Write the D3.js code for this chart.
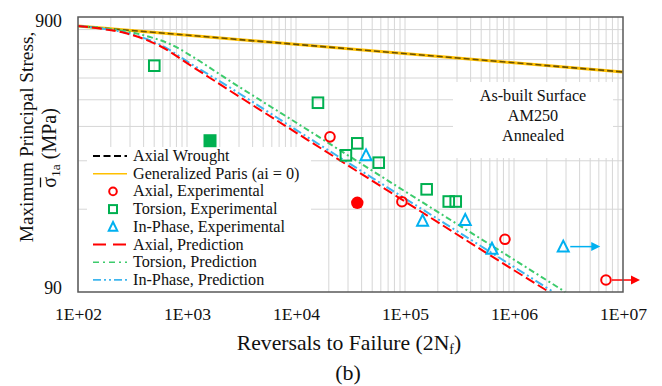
<!DOCTYPE html>
<html>
<head>
<meta charset="utf-8">
<script src="https://cdn.jsdelivr.net/npm/d3@7"></script>
<style>
  html, body { margin: 0; padding: 0; background: #fff; }
</style>
</head>
<body>
<svg id="chart" width="662" height="386"></svg>
<script>
// Reversals to failure (2Nf) vs. maximum principal stress amplitude (MPa)
const xTicks = [1e2, 1e3, 1e4, 1e5, 1e6, 1e7];
const yTicks = [90, 900];

// Model curves [2Nf, stress]
const axialWrought = [[100, 835], [1e7, 568]];
const generalizedParis = [[100, 835], [1e7, 568]];
const axialPrediction = [[100, 835], [159, 817], [270, 787], [565, 706], [1135, 592], [2330, 493], [1e4, 342], [1e5, 192], [1e6, 108], [2.1e6, 90]];
const torsionPrediction = [[100, 835], [159, 822], [270, 800], [458, 761], [698, 718], [1135, 644], [2330, 535], [1e4, 372], [1e5, 209], [1e6, 118], [2.96e6, 90]];
const inPhasePrediction = [[100, 835], [159, 818], [270, 790], [565, 714], [1135, 602], [2330, 506], [1e4, 350], [1e5, 197], [1e6, 111], [2.3e6, 90]];

// Experimental results [2Nf, stress]
const axialExp = [[20500, 330], [93700, 191.7], [826000, 139.9], [6.98e6, 99.5]];
const axialRunout = [false, false, false, true];
const axialExcluded = [[36500, 190]];
const torsionExp = [[501, 598.6], [15900, 439], [28700, 282.7], [36500, 312.5], [57400, 265.8], [158000, 212.6], [252000, 192], [292000, 192]];
const torsionExcluded = [[1626, 319.4]];
const inPhaseExp = [[43900, 282.7], [145000, 163.5], [357000, 164.5], [628000, 129.3], [2.83e6, 131.6]];
const inPhaseRunout = [false, false, false, false, true];

const legendLabels = [
  "Axial Wrought",
  "Generalized Paris (ai = 0)",
  "Axial, Experimental",
  "Torsion, Experimental",
  "In-Phase, Experimental",
  "Axial, Prediction",
  "Torsion, Prediction",
  "In-Phase, Prediction"
];
const noteLines = ["As-built Surface", "AM250", "Annealed"];

const FONT = "'Liberation Serif', 'Times New Roman', Times, 'Nimbus Roman', 'DejaVu Serif', 'Noto Serif', serif";
const RED = "#ff0000", GREEN = "#00b050", BLUE = "#00b0f0";
const GREEN_LINE = "#3ccb6c", BLUE_LINE = "#3fb6ee", GOLD = "#ffc000";

const svg = d3.select("#chart").style("font-family", FONT);
const L = 78, R = 623, T = 17, B = 292;

const x = d3.scaleLog().domain([1e2, 1e7]).range([L, R]);
const y = d3.scaleLog().domain([90, 900]).range([B, T]);

// Gridlines
const grid = svg.append("g").attr("stroke", "#d6d6d6").attr("stroke-width", 1);
const xMinor = [];
for (let d = 2; d < 7; d++) for (let k = 1; k <= 9; k++) xMinor.push(k * Math.pow(10, d));
grid.selectAll("line.v").data(xMinor).join("line")
  .attr("x1", d => x(d)).attr("x2", d => x(d)).attr("y1", T).attr("y2", B);
const yMinor = d3.range(2, 10).map(k => k * 90);
grid.selectAll("line.h").data(yMinor).join("line")
  .attr("y1", d => y(d)).attr("y2", d => y(d)).attr("x1", L).attr("x2", R);

// White panels for the note and the legend
svg.append("rect").attr("x", 453).attr("y", 82).attr("width", 160).attr("height", 76).attr("fill", "#fff");
svg.append("rect").attr("x", 87).attr("y", 147).attr("width", 224).attr("height", B - 147).attr("fill", "#fff");

// Note text
svg.append("g").selectAll("text").data(noteLines).join("text")
  .attr("x", 533).attr("y", (d, i) => 101 + i * 20)
  .attr("text-anchor", "middle").attr("font-size", 16.2).attr("fill", "#111")
  .attr("font-family", FONT)
  .text(d => d);

// Curves
const line = d3.line().x(d => x(d[0])).y(d => y(d[1])).curve(d3.curveMonotoneX);
const curves = svg.append("g").attr("fill", "none");
curves.append("path").datum(generalizedParis).attr("d", line)
  .attr("stroke", GOLD).attr("stroke-width", 3);
curves.append("path").datum(axialWrought).attr("d", line)
  .attr("stroke", "#3a2c00").attr("stroke-opacity", 0.75).attr("stroke-width", 1.6).attr("stroke-dasharray", "6,3");
curves.append("path").datum(torsionPrediction).attr("d", line)
  .attr("stroke", GREEN_LINE).attr("stroke-width", 2).attr("stroke-dasharray", "6,3,2,3");
curves.append("path").datum(inPhasePrediction).attr("d", line)
  .attr("stroke", BLUE_LINE).attr("stroke-width", 2).attr("stroke-dasharray", "9,3,2,3,2,3");
curves.append("path").datum(axialPrediction).attr("d", line)
  .attr("stroke", RED).attr("stroke-width", 2).attr("stroke-dasharray", "10,4");

// Marker helpers
function tri(cx, cy, s) {
  const h = s * 0.9;
  return `M${cx},${cy - h / 2 - 1}L${cx + s / 2},${cy + h / 2}L${cx - s / 2},${cy + h / 2}Z`;
}
function arrow(g, x0, yy, color, len) {
  g.append("line").attr("x1", x0).attr("x2", x0 + len - 8).attr("y1", yy).attr("y2", yy)
    .attr("stroke", color).attr("stroke-width", 1.5);
  g.append("path").attr("d", `M${x0 + len},${yy}L${x0 + len - 9},${yy - 4.5}L${x0 + len - 9},${yy + 4.5}Z`)
    .attr("fill", color);
}

const marks = svg.append("g");
// Runout arrows
axialExp.forEach((d, i) => { if (axialRunout[i]) arrow(marks, x(d[0]) + 6, y(d[1]), RED, 28); });
inPhaseExp.forEach((d, i) => { if (inPhaseRunout[i]) arrow(marks, x(d[0]) + 7, y(d[1]), BLUE, 30); });

marks.selectAll("rect.tx").data(torsionExp).join("rect")
  .attr("x", d => x(d[0]) - 5.3).attr("y", d => y(d[1]) - 5.3)
  .attr("width", 10.6).attr("height", 10.6)
  .attr("fill", "none").attr("stroke", GREEN).attr("stroke-width", 2);
marks.selectAll("rect.tf").data(torsionExcluded).join("rect")
  .attr("x", d => x(d[0]) - 6.5).attr("y", d => y(d[1]) - 6.5)
  .attr("width", 13).attr("height", 13).attr("fill", GREEN);
marks.selectAll("circle.ax").data(axialExp).join("circle")
  .attr("cx", d => x(d[0])).attr("cy", d => y(d[1])).attr("r", 4.8)
  .attr("fill", "none").attr("stroke", RED).attr("stroke-width", 2);
marks.selectAll("circle.af").data(axialExcluded).join("circle")
  .attr("cx", d => x(d[0])).attr("cy", d => y(d[1])).attr("r", 6.2).attr("fill", RED);
marks.selectAll("path.ip").data(inPhaseExp).join("path")
  .attr("d", d => tri(x(d[0]), y(d[1]), 11))
  .attr("fill", "none").attr("stroke", BLUE).attr("stroke-width", 2).attr("stroke-linejoin", "miter");

// Plot frame
svg.append("rect").attr("x", L).attr("y", T).attr("width", R - L).attr("height", B - T)
  .attr("fill", "none").attr("stroke", "#595959").attr("stroke-width", 1.5);

// Axes
const xAxis = svg.append("g").attr("transform", `translate(0,${B})`)
  .call(d3.axisBottom(x).tickValues(xTicks).tickSize(0).tickPadding(16)
    .tickFormat(d => "1E+" + String(Math.round(Math.log10(d))).padStart(2, "0")));
xAxis.attr("font-family", FONT);
xAxis.select(".domain").remove();
xAxis.selectAll("text").attr("font-size", 17.6).attr("fill", "#111");

const yAxis = svg.append("g").attr("transform", `translate(${L},0)`)
  .call(d3.axisLeft(y).tickValues(yTicks).tickSize(0).tickPadding(16).tickFormat(d3.format("d")));
yAxis.attr("font-family", FONT);
yAxis.select(".domain").remove();
yAxis.selectAll("text").attr("font-size", 17.8).attr("fill", "#111")
  .attr("dy", d => d === 900 ? "0.55em" : "0.06em");

// Axis titles
const xt = svg.append("text").attr("x", 349).attr("y", 350).attr("text-anchor", "middle")
  .attr("font-family", FONT).attr("font-size", 21.7).attr("fill", "#111");
xt.append("tspan").text("Reversals to Failure (2N");
xt.append("tspan").attr("font-size", 14).attr("dy", 4).text("f");
xt.append("tspan").attr("dy", -4).text(")");

svg.append("text").attr("x", 348).attr("y", 380).attr("text-anchor", "middle")
  .attr("font-family", FONT).attr("font-size", 22).attr("fill", "#111").text("(b)");

const yt = svg.append("g").attr("transform", "rotate(-90)").attr("font-family", FONT);
yt.append("text").attr("x", -137).attr("y", 33).attr("text-anchor", "middle")
  .attr("font-size", 19.3).attr("fill", "#111").text("Maximum Principal Stress,");
const yt2 = yt.append("text").attr("x", -148).attr("y", 55.5).attr("text-anchor", "middle")
  .attr("font-size", 20).attr("fill", "#111");
yt2.append("tspan").text("σ");
yt2.append("tspan").attr("font-size", 13.5).attr("dy", 4).text("1a");
yt2.append("tspan").attr("dy", -4).text(" (MPa)");
// overline on sigma
const n0 = yt2.node();
const s0 = n0.getStartPositionOfChar(0).x, s1 = n0.getEndPositionOfChar(0).x;
yt.append("line").attr("x1", s0 + 0.5).attr("x2", s1 - 0.5).attr("y1", 55.5 - 15).attr("y2", 55.5 - 15)
  .attr("stroke", "#111").attr("stroke-width", 1.3);

// Legend
const lg = svg.append("g").attr("font-family", FONT);
const rowY = i => 161 + i * 17.7;
const lx0 = 93, lx1 = 127, mx = 111;
legendLabels.forEach((lab, i) => {
  const cy = rowY(i) - 5;
  if (i === 0) {
    lg.append("line").attr("x1", lx0).attr("x2", lx1).attr("y1", cy).attr("y2", cy)
      .attr("stroke", "#000").attr("stroke-width", 1.8).attr("stroke-dasharray", "7,3.5");
  } else if (i === 1) {
    lg.append("line").attr("x1", lx0).attr("x2", lx1).attr("y1", cy).attr("y2", cy)
      .attr("stroke", GOLD).attr("stroke-width", 1.6);
  } else if (i === 2) {
    lg.append("circle").attr("cx", mx + 2).attr("cy", cy).attr("r", 3.8)
      .attr("fill", "none").attr("stroke", RED).attr("stroke-width", 2);
  } else if (i === 3) {
    lg.append("rect").attr("x", mx + 2 - 4).attr("y", cy - 4).attr("width", 8).attr("height", 8)
      .attr("fill", "none").attr("stroke", GREEN).attr("stroke-width", 2);
  } else if (i === 4) {
    lg.append("path").attr("d", tri(mx + 2, cy, 8.5))
      .attr("fill", "none").attr("stroke", BLUE).attr("stroke-width", 2);
  } else if (i === 5) {
    lg.append("line").attr("x1", lx0).attr("x2", lx1).attr("y1", cy).attr("y2", cy)
      .attr("stroke", RED).attr("stroke-width", 1.8).attr("stroke-dasharray", "13,7");
  } else if (i === 6) {
    lg.append("line").attr("x1", lx0).attr("x2", lx1).attr("y1", cy).attr("y2", cy)
      .attr("stroke", GREEN_LINE).attr("stroke-width", 1.6).attr("stroke-dasharray", "6,4,2,4");
  } else {
    lg.append("line").attr("x1", lx0).attr("x2", lx1).attr("y1", cy).attr("y2", cy)
      .attr("stroke", BLUE_LINE).attr("stroke-width", 1.6).attr("stroke-dasharray", "8,3,2,3,2,3");
  }
  lg.append("text").attr("x", 133).attr("y", rowY(i)).attr("font-size", 16.2).attr("fill", "#111").text(lab);
});
</script>
</body>
</html>
